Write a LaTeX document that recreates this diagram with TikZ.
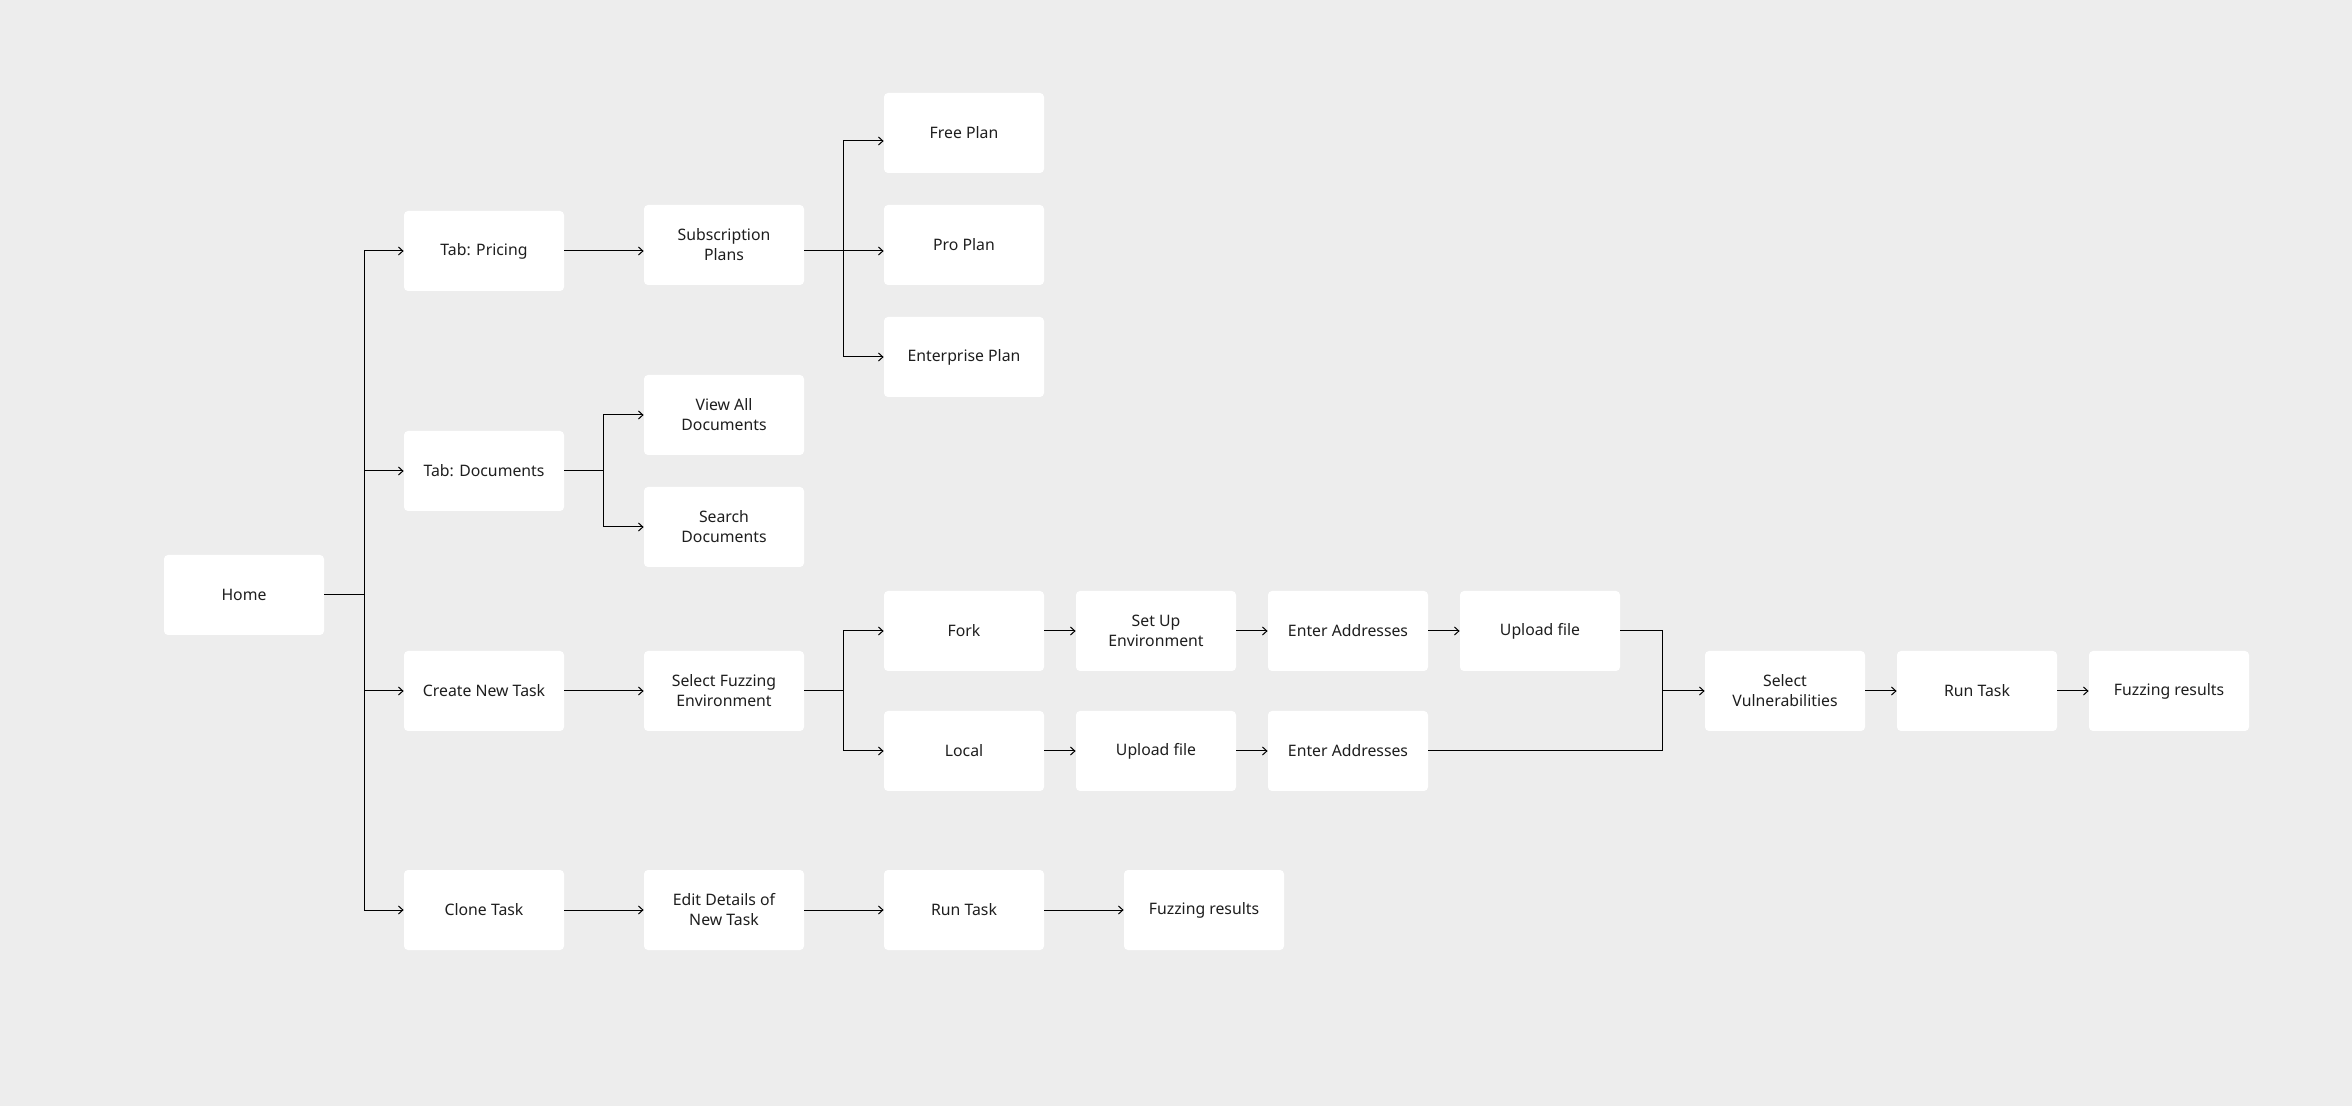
\documentclass[tikz,border=0pt]{standalone}
\usepackage{fontspec}
\setmainfont{Noto Sans}
\usetikzlibrary{arrows.meta}
\definecolor{bgc}{RGB}{237,237,237}
\definecolor{txt}{RGB}{30,30,30}
\tikzset{
  box/.style={fill=white, draw=none, rounded corners=2pt, minimum width=80pt, minimum height=40pt,
    inner sep=0pt, align=center, text=txt, font=\fontsize{7.9}{10}\selectfont},
  ln/.style={draw=black, line width=0.5pt},
  arr/.style={ln, -{Straight Barb[length=2.2pt,width=4pt,line width=0.5pt]}},
}
\begin{document}
\begin{tikzpicture}[x=0.5pt,y=-0.5pt]
\fill[bgc] (0,0) rectangle (2352,1106);
\useasboundingbox (0,0) rectangle (2352,1106);

\node[box] (home) at (244,595) {Home};
\node[box] (pricing) at (484,251) {Tab: Pricing};
\node[box] (documents) at (484,471) {Tab: Documents};
\node[box] (create) at (484,691) {Create New Task};
\node[box] (clone) at (484,910) {Clone Task};
\node[box] (subs) at (724,245) {Subscription\\Plans};
\node[box] (viewall) at (724,415) {View All\\Documents};
\node[box] (search) at (724,527) {Search\\Documents};
\node[box] (selfuzz) at (724,691) {Select Fuzzing\\Environment};
\node[box] (edit) at (724,910) {Edit Details of\\New Task};
\node[box] (free) at (964,133) {Free Plan};
\node[box] (pro) at (964,245) {Pro Plan};
\node[box] (ent) at (964,357) {Enterprise Plan};
\node[box] (fork) at (964,631) {Fork};
\node[box] (local) at (964,751) {Local};
\node[box] (runb) at (964,910) {Run Task};
\node[box] (fuzzb) at (1204,910) {Fuzzing results};
\node[box] (setup) at (1156,631) {Set Up\\Environment};
\node[box] (uploadb) at (1156,751) {Upload file};
\node[box] (entera) at (1348,631) {Enter Addresses};
\node[box] (enterb) at (1348,751) {Enter Addresses};
\node[box] (uploada) at (1540,631) {Upload file};
\node[box] (selvul) at (1785,691) {Select\\Vulnerabilities};
\node[box] (runa) at (1977,691) {Run Task};
\node[box] (fuzza) at (2169,691) {Fuzzing results};

% trunk from Home
\coordinate (t0) at (364,595);
\draw[ln] (home.east) -- (t0);
\draw[ln] (364,251) -- (364,910);
\draw[arr] (364,251) -- (pricing.west);
\draw[arr] (364,471) -- (documents.west);
\draw[arr] (364,691) -- (create.west);
\draw[arr] (364,910) -- (clone.west);

% pricing
\draw[arr] (pricing.east) -- (pricing.east -| subs.west);
\draw[ln] (pricing.east -| subs.east) -- (843,251);
\draw[ln] (843,141) -- (843,357);
\draw[arr] (843,141) -- (free.west |- 0,141);
\draw[arr] (843,251) -- (pro.west |- 0,251);
\draw[arr] (843,357) -- (ent.west);

% documents
\draw[ln] (documents.east) -- (603,471);
\draw[ln] (603,415) -- (603,527);
\draw[arr] (603,415) -- (viewall.west);
\draw[arr] (603,527) -- (search.west |- 0,527);

% create task
\draw[arr] (create.east) -- (selfuzz.west);
\draw[ln] (selfuzz.east) -- (843,691);
\draw[ln] (843,631) -- (843,751);
\draw[arr] (843,631) -- (fork.west);
\draw[arr] (843,751) -- (local.west);
\draw[arr] (fork.east) -- (setup.west);
\draw[arr] (setup.east) -- (entera.west);
\draw[arr] (entera.east) -- (uploada.west);
\draw[arr] (local.east) -- (uploadb.west);
\draw[arr] (uploadb.east) -- (enterb.west);
\draw[ln] (uploada.east) -- (1662,631) -- (1662,751) -- (enterb.east);
\draw[arr] (1662,691) -- (selvul.west);
\draw[arr] (selvul.east) -- (runa.west);
\draw[arr] (runa.east) -- (fuzza.west);

% clone
\draw[arr] (clone.east) -- (edit.west);
\draw[arr] (edit.east) -- (runb.west);
\draw[arr] (runb.east) -- (fuzzb.west);
\end{tikzpicture}
\end{document}
